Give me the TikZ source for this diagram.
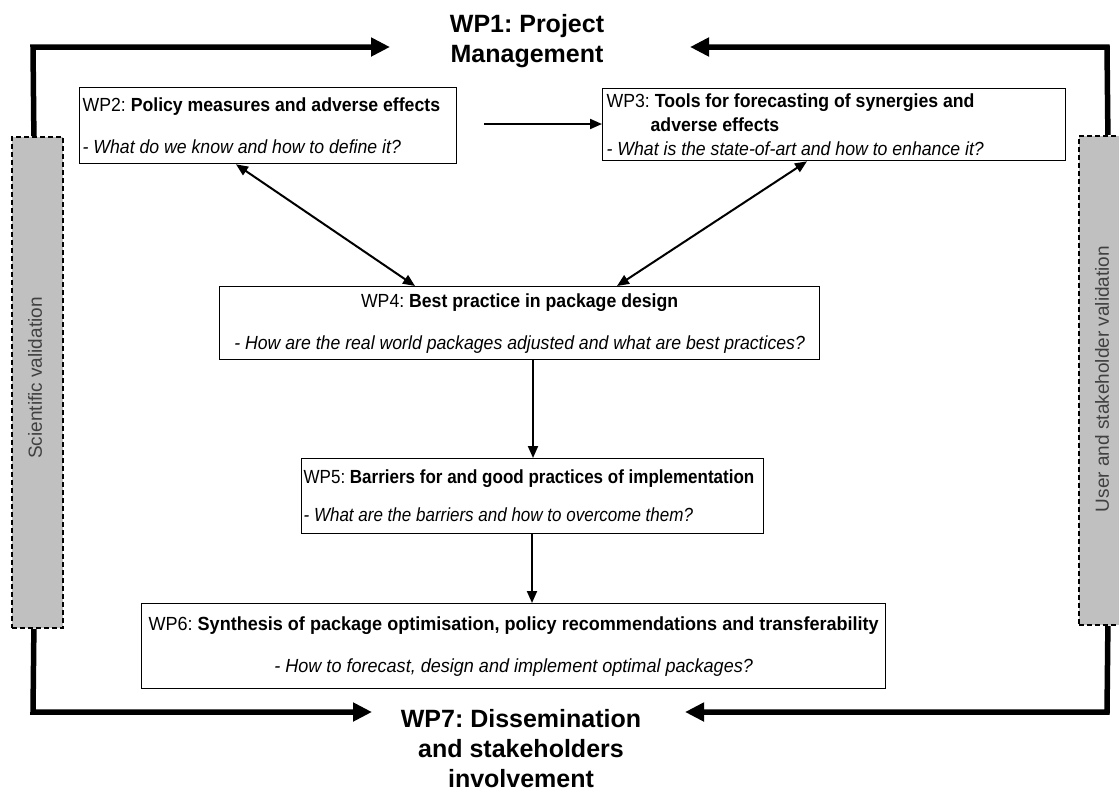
\documentclass[tikz,border=0pt]{standalone}
\usepackage{fontspec}
\setmainfont{Liberation Sans}
\newfontfamily\narrowfont{Liberation Sans}[FakeStretch=0.93]
\newfontfamily\narrowerfont{Liberation Sans}[FakeStretch=0.895]
\newfontfamily\widerfont{Liberation Sans}[FakeStretch=0.95]
\usetikzlibrary{arrows.meta}
\definecolor{valgray}{HTML}{C0C0C0}
\frenchspacing
\begin{document}
\begin{tikzpicture}[x=1pt,y=-1pt,
  wpbox/.style={draw, line width=1.3pt, inner xsep=4pt, inner ysep=0pt, anchor=north west,
    font=\narrowfont\fontsize{19}{22}\selectfont},
  bigtitle/.style={align=center, font=\bfseries\fontsize{25}{30}\selectfont},
  valbox/.style={draw, fill=valgray, line width=1.8pt, dash pattern=on 5pt off 3pt, anchor=north west, inner sep=0pt},
  vallabel/.style={rotate=90, text=black!75, font=\fontsize{19}{21}\selectfont},
  bigarrow/.style={line width=5.5pt, line join=miter, -{Triangle[length=19pt,width=18pt]}},
  thinarrow/.style={line width=2pt, -{Triangle[length=12pt,width=10pt]}},
  dblarrow/.style={line width=2pt, {Triangle[length=12pt,width=10pt]}-{Triangle[length=12pt,width=10pt]}}
]
\useasboundingbox (0,0) rectangle (1119,793);
\clip (0,0) rectangle (1119,793);

% titles
\node[bigtitle] (wp1) at (527,41) {WP1: Project\\Management};
\node[bigtitle] (wp7) at (521,749) {WP7: Dissemination\\and stakeholders\\involvement};

% validation bars
\node[valbox, minimum width=51pt, minimum height=491pt] (lval) at (11,136) {};
\node[vallabel] (lvaltext) at (35,378) {Scientific validation};
\node[valbox, minimum width=58pt, minimum height=489pt] (rval) at (1078,135) {};
\node[vallabel] (rvaltext) at (1102,379) {User and stakeholder validation};

% work package boxes
\node[wpbox, minimum width=377pt, minimum height=76pt, text width=371pt, inner xsep=3pt, align=flush left] (wp2) at (79,87)
  {WP2: \textbf{Policy measures and adverse effects}\\[20pt]\textit{- What do we know and how to define it?}};
\node[wpbox, minimum width=463pt, minimum height=72pt, text width=455pt, align=flush left, font=\narrowfont\fontsize{19}{24}\selectfont] (wp3) at (602,88)
  {WP3: \textbf{Tools for forecasting of synergies and}\\\hspace*{44pt}\textbf{adverse effects}\\\textit{- What is the state-of-art and how to enhance it?}};
\node[wpbox, minimum width=600pt, minimum height=73pt, text width=592pt, align=flush center] (wp4) at (219,286)
  {WP4: \textbf{Best practice in package design}\\[20pt]\textit{- How are the real world packages adjusted and what are best practices?}};
\node[wpbox, minimum width=462pt, minimum height=75pt, text width=458pt, inner xsep=2pt, align=flush left, font=\narrowerfont\fontsize{19}{22}\selectfont] (wp5) at (301,458)
  {WP5: \textbf{Barriers for and good practices of implementation}\\[16pt]\textit{- What are the barriers and how to overcome them?}};
\node[wpbox, minimum width=744pt, minimum height=85pt, text width=740pt, inner xsep=2pt, align=flush center, font=\widerfont\fontsize{19}{22}\selectfont] (wp6) at (141,603)
  {WP6: \textbf{Synthesis of package optimisation, policy recommendations and transferability}\\[20pt]\textit{- How to forecast, design and implement optimal packages?}};

% thick loop connectors
\coordinate (tlcorner) at (33,47);
\coordinate (tltip) at (390,47);
\coordinate (trcorner) at (1107,47);
\coordinate (trtip) at (690,47);
\coordinate (blcorner) at (33,712);
\coordinate (bltip) at (372,712);
\coordinate (brcorner) at (1107,712);
\coordinate (brtip) at (685,712);
\draw[bigarrow] ([xshift=-3.5pt]lval.north) -- (tlcorner) -- (tltip);
\draw[bigarrow] (rval.north) -- (trcorner) -- (trtip);
\draw[bigarrow] ([xshift=-3.5pt]lval.south) -- (blcorner) -- (bltip);
\draw[bigarrow] (rval.south) -- (brcorner) -- (brtip);

% thin connectors
\coordinate (wp23start) at (484,124);
\draw[thinarrow] (wp23start) -- (wp23start -| wp3.west);
\draw[dblarrow] ([xshift=157pt]wp2.south west) -- ([xshift=196pt]wp4.north west);
\draw[dblarrow] ([xshift=205pt]wp3.south west) -- ([xshift=398pt]wp4.north west);
\draw[thinarrow] ([xshift=314pt]wp4.south west) -- ([xshift=232pt]wp5.north west);
\draw[thinarrow] ([xshift=231pt]wp5.south west) -- ([xshift=391pt]wp6.north west);
\end{tikzpicture}
\end{document}
